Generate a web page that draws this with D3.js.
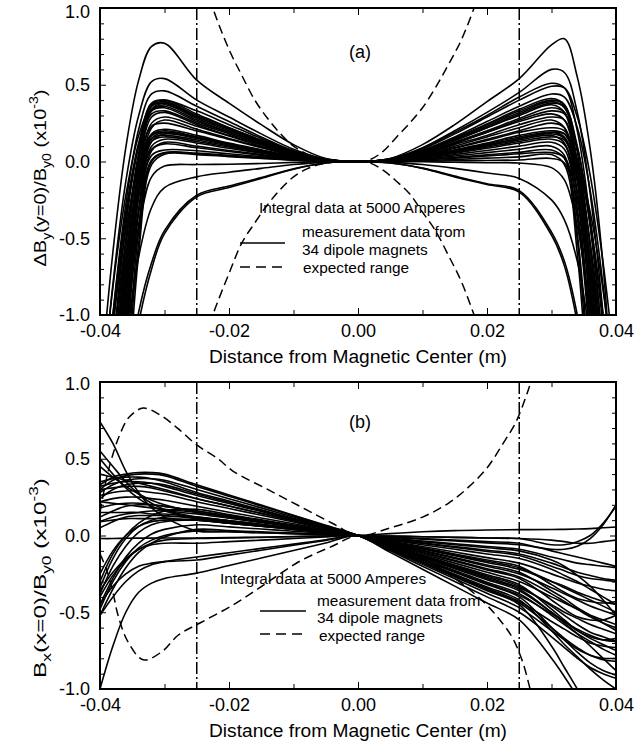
<!DOCTYPE html>
<html><head><meta charset="utf-8">
<script src="https://cdn.jsdelivr.net/npm/d3@7"></script>
<style>
body{margin:0;background:#fff}
text{font-family:"Liberation Sans",Arial,sans-serif;fill:#000}
</style>
</head><body>
<svg id="chart" width="636" height="745"></svg>
<script>
// ---------- DATA ----------
const xSamples = [-0.04,-0.038,-0.036,-0.034,-0.032,-0.03,-0.025,-0.02,-0.015,-0.01,-0.005,0,0.005,0.01,0.015,0.02,0.025,0.03,0.032,0.034,0.036,0.038,0.04];

// panel (a): ΔBy(y=0)/By0 for 34 magnets, values at xSamples
const curvesA = [
[-1.48,-0.59,0.09,0.53,0.75,0.77,0.53,0.38,0.24,0.11,0.02,0,0.02,0.11,0.24,0.39,0.54,0.76,0.80,0.55,0.08,-0.68,-1.9],
[-1.68,-0.80,-0.13,0.30,0.52,0.54,0.40,0.29,0.18,0.08,0.016,0,0.018,0.09,0.20,0.32,0.45,0.60,0.58,0.32,-0.21,-1.0,-2.05],
[-1.96,-1.0,-0.28,0.21,0.44,0.46,0.36,0.26,0.16,0.07,0.014,0,0.017,0.084,0.19,0.30,0.42,0.51,0.48,0.20,-0.38,-1.24,-2.4],
[-2.3,-1.23,-0.42,0.11,0.38,0.40,0.33,0.24,0.15,0.066,0.013,0,0.016,0.08,0.18,0.29,0.40,0.49,0.48,0.29,-0.09,-0.66,-1.4],
[-2.76,-1.51,-0.56,0.06,0.37,0.40,0.31,0.22,0.14,0.062,0.012,0,0.014,0.072,0.16,0.26,0.36,0.44,0.42,0.22,-0.19,-0.81,-1.64],
[-2.96,-1.64,-0.64,0.02,0.36,0.39,0.30,0.22,0.135,0.06,0.012,0,0.013,0.066,0.15,0.24,0.33,0.40,0.37,0.06,-0.56,-1.51,-2.76],
[-3.34,-1.86,-0.76,-0.03,0.34,0.38,0.29,0.21,0.13,0.058,0.012,0,0.013,0.064,0.144,0.23,0.32,0.39,0.35,-0.02,-0.76,-1.87,-3.35],
[-3.76,-2.12,-0.89,-0.08,0.33,0.37,0.28,0.20,0.126,0.056,0.011,0,0.012,0.062,0.14,0.22,0.31,0.38,0.36,0.10,-0.43,-1.22,-2.28],
[-1.89,-1.0,-0.33,0.12,0.34,0.36,0.27,0.19,0.12,0.054,0.011,0,0.012,0.06,0.135,0.22,0.30,0.37,0.32,-0.12,-1.0,-2.32,-4.1],
[-2.02,-1.08,-0.37,0.10,0.33,0.35,0.26,0.19,0.117,0.052,0.01,0,0.011,0.056,0.126,0.20,0.28,0.35,0.32,-0.01,-0.65,-1.63,-2.9],
[-2.47,-1.36,-0.53,0.03,0.31,0.33,0.25,0.18,0.11,0.05,0.01,0,0.011,0.054,0.12,0.19,0.27,0.33,0.31,0.09,-0.38,-1.08,-2.0],
[-3.1,-1.74,-0.73,-0.06,0.29,0.32,0.24,0.17,0.11,0.048,0.01,0,0.01,0.052,0.117,0.19,0.26,0.31,0.27,-0.12,-0.89,-2.07,-3.64],
[-3.6,-2.05,-0.90,-0.13,0.25,0.29,0.23,0.166,0.10,0.046,0.009,0,0.01,0.048,0.11,0.17,0.24,0.29,0.27,0.0,-0.55,-1.35,-2.43],
[-4.2,-2.45,-1.12,-0.22,0.22,0.27,0.21,0.15,0.095,0.042,0.008,0,0.009,0.044,0.10,0.16,0.22,0.27,0.22,-0.22,-1.12,-2.45,-4.2],
[-2.23,-1.25,-0.51,-0.02,0.23,0.25,0.20,0.144,0.09,0.04,0.008,0,0.008,0.04,0.09,0.144,0.20,0.25,0.22,-0.11,-0.75,-1.71,-2.99],
[-2.71,-1.56,-0.68,-0.11,0.18,0.21,0.17,0.12,0.077,0.034,0.007,0,0.008,0.038,0.086,0.137,0.19,0.22,0.20,0.01,-0.40,-1.0,-1.80],
[-3.15,-1.82,-0.83,-0.17,0.17,0.20,0.16,0.115,0.072,0.032,0.006,0,0.007,0.034,0.077,0.12,0.17,0.20,0.18,-0.06,-0.53,-1.24,-2.19],
[-3.69,-2.15,-1.0,-0.23,0.15,0.19,0.155,0.11,0.07,0.031,0.006,0,0.006,0.032,0.072,0.115,0.16,0.19,0.16,-0.12,-0.69,-1.55,-2.68],
[-4.57,-2.69,-1.27,-0.33,0.13,0.18,0.15,0.108,0.068,0.03,0.006,0,0.006,0.03,0.068,0.108,0.15,0.18,0.15,-0.20,-0.90,-1.96,-3.38],
[-2.48,-1.43,-0.63,-0.12,0.15,0.17,0.14,0.10,0.063,0.028,0.006,0,0.006,0.028,0.063,0.10,0.14,0.17,0.12,-0.33,-1.21,-2.53,-4.3],
[-3.34,-1.95,-0.91,-0.22,0.13,0.16,0.13,0.094,0.058,0.026,0.005,0,0.005,0.026,0.058,0.094,0.13,0.16,0.14,-0.12,-0.64,-1.42,-2.46],
[-4.05,-2.38,-1.15,-0.32,0.10,0.145,0.12,0.086,0.054,0.024,0.005,0,0.005,0.024,0.054,0.086,0.12,0.145,0.11,-0.21,-0.84,-1.78,-3.05],
[-5.07,-3.01,-1.47,-0.45,0.07,0.125,0.10,0.072,0.045,0.02,0.004,0,0.004,0.02,0.045,0.072,0.10,0.125,0.08,-0.31,-1.10,-2.28,-3.83],
[-2.77,-1.63,-0.78,-0.20,0.08,0.115,0.09,0.065,0.04,0.018,0.004,0,0.003,0.016,0.036,0.058,0.08,0.10,0.04,-0.51,-1.62,-3.29,-5.5],
[-3.42,-2.04,-1.0,-0.31,0.04,0.075,0.07,0.05,0.032,0.014,0.003,0,0.002,0.012,0.027,0.043,0.06,0.075,0.02,-0.47,-1.45,-2.92,-4.9],
[-4.18,-2.5,-1.24,-0.41,0.01,0.058,0.055,0.04,0.025,0.011,0.002,0,0.002,0.01,0.022,0.036,0.05,0.058,0.025,-0.26,-0.82,-1.66,-2.78],
[-5.3,-3.18,-1.59,-0.53,0.0,0.055,0.05,0.036,0.022,0.01,0.002,0,0.001,0.006,0.013,0.022,0.03,0.045,-0.02,-0.60,-1.77,-3.52,-5.83],
[-5.83,-3.52,-1.77,-0.60,-0.02,0.048,0.045,0.032,0.02,0.009,0.002,0,0.0,0.002,0.005,0.007,0.01,0.02,-0.01,-0.37,-1.09,-2.16,-3.57],
[-2.6,-1.8,-1.05,-0.45,-0.1,-0.03,-0.02,-0.018,-0.013,-0.006,-0.001,0,0.0,-0.002,-0.005,-0.008,-0.01,-0.04,-0.12,-0.42,-1.0,-1.8,-2.7],
[-2.7,-1.9,-1.2,-0.62,-0.3,-0.17,-0.10,-0.07,-0.045,-0.02,-0.004,0,-0.004,-0.02,-0.045,-0.075,-0.11,-0.25,-0.38,-0.65,-1.15,-1.8,-2.6],
[-3.2,-2.3,-1.6,-1.05,-0.7,-0.47,-0.23,-0.17,-0.11,-0.05,-0.01,0,-0.01,-0.045,-0.10,-0.15,-0.20,-0.48,-0.68,-1.05,-1.6,-2.3,-3.2],
[-3.1,-2.2,-1.5,-0.98,-0.66,-0.45,-0.22,-0.16,-0.105,-0.048,-0.01,0,-0.01,-0.043,-0.095,-0.145,-0.19,-0.46,-0.65,-1.0,-1.55,-2.2,-3.1],
[-1.61,-0.82,-0.22,0.17,0.36,0.38,0.29,0.21,0.13,0.058,0.012,0,0.014,0.068,0.153,0.245,0.34,0.41,0.37,-0.05,-0.89,-2.15,-3.84],
[-1.9,-1.07,-0.45,-0.03,0.17,0.19,0.16,0.115,0.072,0.032,0.006,0,0.006,0.032,0.072,0.108,0.15,0.19,0.18,0.01,-0.33,-0.84,-1.53]
];

// panel (b): Bx(x=0)/By0 for 34 magnets, values at xSamples
const curvesB = [
[0.33,0.38,0.40,0.41,0.41,0.40,0.33,0.264,0.198,0.132,0.066,0,-0.094,-0.188,-0.282,-0.376,-0.47,-0.62,-0.68,-0.74,-0.78,-0.81,-0.82],
[0.30,0.36,0.39,0.40,0.40,0.39,0.32,0.256,0.192,0.128,0.064,0,-0.086,-0.172,-0.258,-0.344,-0.43,-0.56,-0.61,-0.66,-0.70,-0.72,-0.73],
[0.35,0.37,0.38,0.38,0.37,0.35,0.28,0.224,0.168,0.112,0.056,0,-0.068,-0.136,-0.204,-0.272,-0.34,-0.45,-0.50,-0.54,-0.58,-0.61,-0.64],
[0.28,0.33,0.36,0.37,0.37,0.36,0.30,0.24,0.18,0.12,0.06,0,-0.08,-0.16,-0.24,-0.32,-0.40,-0.60,-0.68,-0.76,-0.83,-0.88,-0.91],
[0.32,0.34,0.35,0.35,0.34,0.32,0.26,0.208,0.156,0.104,0.052,0,-0.06,-0.12,-0.18,-0.24,-0.30,-0.40,-0.44,-0.48,-0.52,-0.55,-0.58],
[0.24,0.30,0.33,0.34,0.34,0.33,0.27,0.216,0.162,0.108,0.054,0,-0.076,-0.152,-0.228,-0.304,-0.38,-0.52,-0.58,-0.64,-0.69,-0.74,-0.78],
[0.74,0.60,0.42,0.28,0.18,0.12,0.03,0.024,0.018,0.012,0.006,0,-0.012,-0.024,-0.036,-0.048,-0.06,-0.09,-0.09,-0.07,-0.02,0.07,0.20],
[0.55,0.45,0.35,0.27,0.21,0.17,0.12,0.096,0.072,0.048,0.024,0,-0.02,-0.04,-0.06,-0.08,-0.10,-0.16,-0.20,-0.26,-0.33,-0.42,-0.52],
[0.50,0.40,0.31,0.24,0.19,0.16,0.11,0.088,0.066,0.044,0.022,0,-0.026,-0.052,-0.078,-0.104,-0.13,-0.20,-0.23,-0.26,-0.28,-0.29,-0.30],
[0.22,0.21,0.20,0.19,0.18,0.17,0.15,0.12,0.09,0.06,0.03,0,-0.03,-0.06,-0.09,-0.12,-0.15,-0.22,-0.26,-0.30,-0.35,-0.40,-0.45],
[0.22,0.24,0.25,0.25,0.24,0.23,0.19,0.152,0.114,0.076,0.038,0,-0.044,-0.088,-0.132,-0.176,-0.22,-0.30,-0.33,-0.37,-0.40,-0.43,-0.45],
[0.09,0.12,0.14,0.15,0.16,0.16,0.14,0.112,0.084,0.056,0.028,0,-0.024,-0.048,-0.072,-0.096,-0.12,-0.18,-0.21,-0.24,-0.26,-0.28,-0.29],
[0.09,0.10,0.11,0.11,0.11,0.11,0.10,0.08,0.06,0.04,0.02,0,-0.018,-0.036,-0.054,-0.072,-0.09,-0.14,-0.16,-0.18,-0.19,-0.20,-0.21],
[-0.02,-0.02,-0.018,-0.017,-0.017,-0.016,-0.016,-0.014,-0.011,-0.007,-0.003,0,0.012,0.024,0.032,0.036,0.038,0.039,0.04,0.042,0.045,0.05,0.055],
[0.15,0.15,0.15,0.15,0.14,0.14,0.12,0.096,0.072,0.048,0.024,0,-0.01,-0.02,-0.03,-0.04,-0.05,-0.10,-0.12,-0.14,-0.16,-0.18,-0.20],
[-0.34,-0.15,-0.02,0.06,0.10,0.12,0.12,0.096,0.072,0.048,0.024,0,-0.04,-0.08,-0.12,-0.16,-0.20,-0.32,-0.37,-0.41,-0.43,-0.44,-0.43],
[-0.38,-0.20,-0.07,0.02,0.07,0.09,0.10,0.08,0.06,0.04,0.02,0,-0.004,-0.008,-0.012,-0.016,-0.02,-0.06,-0.06,-0.04,0.0,0.08,0.19],
[-0.45,-0.28,-0.14,-0.05,0.01,0.04,0.07,0.056,0.042,0.028,0.014,0,-0.004,-0.008,-0.012,-0.016,-0.02,-0.03,-0.04,-0.05,-0.05,-0.04,-0.03],
[-0.52,-0.35,-0.21,-0.11,-0.05,-0.01,0.04,0.032,0.024,0.016,0.008,0,-0.036,-0.072,-0.108,-0.144,-0.18,-0.25,-0.28,-0.31,-0.33,-0.35,-0.36],
[-0.30,-0.12,0.0,0.08,0.13,0.16,0.17,0.136,0.102,0.068,0.034,0,-0.048,-0.096,-0.144,-0.192,-0.24,-0.36,-0.41,-0.47,-0.52,-0.57,-0.62],
[-0.40,-0.26,-0.16,-0.09,-0.05,-0.03,-0.02,-0.016,-0.012,-0.008,-0.004,0,-0.042,-0.084,-0.126,-0.168,-0.21,-0.30,-0.34,-0.38,-0.42,-0.46,-0.50],
[-1.0,-0.72,-0.50,-0.37,-0.31,-0.28,-0.245,-0.196,-0.147,-0.098,-0.049,0,-0.09,-0.18,-0.27,-0.36,-0.45,-0.72,-0.86,-1.0,-1.15,-1.3,-1.45],
[-0.45,-0.33,-0.25,-0.20,-0.18,-0.17,-0.16,-0.128,-0.096,-0.064,-0.032,0,-0.05,-0.10,-0.15,-0.20,-0.25,-0.34,-0.38,-0.42,-0.46,-0.49,-0.52],
[-0.52,-0.40,-0.30,-0.23,-0.19,-0.17,-0.14,-0.112,-0.084,-0.056,-0.028,0,-0.054,-0.108,-0.162,-0.216,-0.27,-0.38,-0.43,-0.48,-0.53,-0.57,-0.60],
[0.40,0.38,0.36,0.34,0.32,0.30,0.24,0.192,0.144,0.096,0.048,0,-0.10,-0.20,-0.30,-0.40,-0.50,-0.66,-0.73,-0.80,-0.86,-0.90,-0.93],
[0.26,0.28,0.29,0.29,0.28,0.27,0.22,0.176,0.132,0.088,0.044,0,-0.056,-0.112,-0.168,-0.224,-0.28,-0.42,-0.48,-0.53,-0.55,-0.55,-0.52],
[0.18,0.20,0.21,0.21,0.20,0.19,0.16,0.128,0.096,0.064,0.032,0,-0.078,-0.156,-0.234,-0.312,-0.39,-0.51,-0.56,-0.61,-0.65,-0.68,-0.69],
[0.05,0.09,0.12,0.13,0.13,0.13,0.11,0.088,0.066,0.044,0.022,0,-0.064,-0.128,-0.192,-0.256,-0.32,-0.48,-0.55,-0.62,-0.66,-0.68,-0.67],
[-0.25,-0.10,0.0,0.06,0.09,0.10,0.10,0.08,0.06,0.04,0.02,0,-0.072,-0.144,-0.216,-0.288,-0.36,-0.50,-0.56,-0.62,-0.67,-0.71,-0.75],
[-0.36,-0.24,-0.15,-0.09,-0.06,-0.05,-0.05,-0.04,-0.03,-0.02,-0.01,0,-0.084,-0.168,-0.252,-0.336,-0.42,-0.62,-0.71,-0.79,-0.87,-0.94,-1.0],
[0.30,0.31,0.32,0.32,0.31,0.29,0.24,0.192,0.144,0.096,0.048,0,-0.088,-0.176,-0.264,-0.352,-0.44,-0.60,-0.67,-0.73,-0.78,-0.80,-0.80],
[0.12,0.16,0.19,0.20,0.20,0.19,0.16,0.128,0.096,0.064,0.032,0,-0.066,-0.132,-0.198,-0.264,-0.33,-0.46,-0.52,-0.58,-0.63,-0.66,-0.69],
[-0.48,-0.30,-0.17,-0.08,-0.03,0.0,0.03,0.024,0.018,0.012,0.006,0,-0.07,-0.14,-0.21,-0.28,-0.35,-0.50,-0.57,-0.64,-0.72,-0.80,-0.88],
[0.45,0.38,0.32,0.27,0.23,0.20,0.15,0.12,0.09,0.06,0.03,0,-0.11,-0.22,-0.33,-0.44,-0.55,-0.80,-0.92,-1.05,-1.2,-1.35,-1.5]
];

// expected range (dashed)
const rangeAX     = [-0.0235,-0.0225,-0.02,-0.018,-0.016,-0.014,-0.012,-0.01,-0.008,-0.006,-0.004,-0.002,0,0.002,0.004,0.006,0.008,0.01,0.012,0.014,0.016,0.018,0.0185];
const rangeAUpper = [1.15,1.0,0.73,0.56,0.40,0.28,0.18,0.10,0.05,0.02,0.005,0.0,0,0.015,0.07,0.16,0.25,0.35,0.48,0.63,0.79,1.0,1.06];
const rangeALower = [-1.15,-1.0,-0.73,-0.53,-0.40,-0.28,-0.18,-0.10,-0.05,-0.02,-0.005,0,0,-0.012,-0.06,-0.13,-0.21,-0.33,-0.45,-0.61,-0.78,-1.0,-1.06];

const rangeBUpperX = [-0.04,-0.0397,-0.039,-0.0382,-0.037,-0.0355,-0.0333,-0.0305,-0.028,-0.025,-0.0217,-0.0194,-0.014,-0.009,-0.004,0,0.005,0.01,0.014,0.017,0.02,0.0225,0.0245,0.026,0.0268,0.0275];
const rangeBUpperY = [0.15,0.22,0.37,0.50,0.65,0.77,0.83,0.78,0.70,0.59,0.50,0.42,0.30,0.19,0.08,0,0.05,0.12,0.21,0.31,0.44,0.60,0.74,0.90,1.0,1.1];
const rangeBLowerX = [-0.04,-0.039,-0.038,-0.0372,-0.0357,-0.0333,-0.0304,-0.0279,-0.0245,-0.0194,-0.0142,-0.009,-0.004,0,0.0044,0.0091,0.0143,0.0194,0.022,0.024,0.0255,0.0265,0.027];
const rangeBLowerY = [-0.12,-0.22,-0.37,-0.52,-0.69,-0.81,-0.757,-0.65,-0.57,-0.453,-0.31,-0.167,-0.07,0,-0.04,-0.127,-0.257,-0.43,-0.55,-0.67,-0.82,-0.97,-1.06];

const markerX = [-0.025, 0.025];
const xTicks = [-0.04,-0.02,0,0.02,0.04];
const xTickLabels = ["-0.04","-0.02","0.00","0.02","0.04"];
const xMinorTicks = [-0.03,-0.01,0.01,0.03];
const yTicks = [-1,-0.5,0,0.5,1];
const yTickLabels = ["-1.0","-0.5","0.0","0.5","1.0"];
const yMinorTicks = [-0.9,-0.8,-0.7,-0.6,-0.4,-0.3,-0.2,-0.1,0.1,0.2,0.3,0.4,0.6,0.7,0.8,0.9];
const xTitle = "Distance from Magnetic Center (m)";
const legendTitle = "Integral data at 5000 Amperes";
const legendSolid = ["measurement data from","34 dipole magnets"];
const legendDashed = "expected range";

// ---------- DRAW ----------
const svg = d3.select("#chart");
const L = 100, R = 616;
const x = d3.scaleLinear().domain([-0.04,0.04]).range([L,R]);

const panels = [
  {id:"a", top:8, bottom:315, curves:curvesA,
   ranges:[[rangeAX,rangeAUpper],[rangeAX,rangeALower]],
   tag:"(a)", tagY:58, topLabelShift:4,
   yTitle:[["ΔB",0],["y",1],["(y=0)/B",0],["y0",1],[" (x10",0],["-3",2],[")",0]], yTitleC:178, yTitleLen:177,
   leg:{tx:259, ty:213, lx1:240, lx2:285, ly1:243, ly2:267, sx:302, sy:[237,255], dx:303, dy:273}},
  {id:"b", top:382, bottom:689, curves:curvesB,
   ranges:[[rangeBUpperX,rangeBUpperY],[rangeBLowerX,rangeBLowerY]],
   tag:"(b)", tagY:428, topLabelShift:2,
   yTitle:[["B",0],["x",1],["(x=0)/B",0],["y0",1],[" (x10",0],["-3",2],[")",0]], yTitleC:578, yTitleLen:200,
   leg:{tx:220, ty:584, lx1:260, lx2:306, ly1:611, ly2:634, sx:317, sy:[606,623], dx:319, dy:641}}
];

panels.forEach(p => {
  const y = d3.scaleLinear().domain([-1,1]).range([p.bottom,p.top]);
  const g = svg.append("g");
  const clipId = "clip-" + p.id;
  svg.append("clipPath").attr("id",clipId).append("rect")
    .attr("x",L).attr("y",p.top).attr("width",R-L).attr("height",p.bottom-p.top);

  const plot = g.append("g").attr("clip-path",`url(#${clipId})`);
  const line = d3.line().x(d=>x(d[0])).y(d=>y(d[1])).curve(d3.curveCatmullRom.alpha(0.5));

  // measurement curves
  plot.selectAll("path.m").data(p.curves).join("path").attr("class","m")
    .attr("d", c => line(c.map((v,i)=>[xSamples[i],v])))
    .attr("fill","none").attr("stroke","#000").attr("stroke-width",1.6);

  // expected range
  p.ranges.forEach(([xs,ys]) => {
    plot.append("path").attr("d", line(xs.map((v,i)=>[v,ys[i]])))
      .attr("fill","none").attr("stroke","#000").attr("stroke-width",1.5)
      .attr("stroke-dasharray","9,5");
  });

  // dash-dot markers
  plot.selectAll("line.mk").data(markerX).join("line").attr("class","mk")
    .attr("x1",d=>x(d)).attr("x2",d=>x(d)).attr("y1",p.top).attr("y2",p.bottom)
    .attr("stroke","#000").attr("stroke-width",1.5).attr("stroke-dasharray","12,3,2,3");

  // axes
  const axes = g.append("g");
  const fmtX = d => xTickLabels[xTicks.indexOf(d)];
  const fmtY = d => yTickLabels[yTicks.indexOf(d)];
  axes.append("g").attr("transform",`translate(0,${p.bottom})`)
    .call(d3.axisBottom(x).tickValues(xTicks).tickSize(-7).tickPadding(9).tickFormat(fmtX));
  axes.append("g").attr("transform",`translate(0,${p.bottom})`)
    .call(d3.axisBottom(x).tickValues(xMinorTicks).tickSize(-5).tickFormat(""));
  axes.append("g").attr("transform",`translate(0,${p.top})`)
    .call(d3.axisTop(x).tickValues(xTicks).tickSize(-7).tickFormat(""));
  axes.append("g").attr("transform",`translate(0,${p.top})`)
    .call(d3.axisTop(x).tickValues(xMinorTicks).tickSize(-5).tickFormat(""));
  const yAx = axes.append("g").attr("transform",`translate(${L},0)`)
    .call(d3.axisLeft(y).tickValues(yTicks).tickSize(-6).tickPadding(10).tickFormat(fmtY));
  yAx.selectAll(".tick text").filter(d => d === 1).attr("y", p.topLabelShift);
  axes.append("g").attr("transform",`translate(${L},0)`)
    .call(d3.axisLeft(y).tickValues(yMinorTicks).tickSize(-4).tickFormat(""));
  axes.append("g").attr("transform",`translate(${R},0)`)
    .call(d3.axisRight(y).tickValues(yTicks).tickSize(-6).tickFormat(""));
  axes.append("g").attr("transform",`translate(${R},0)`)
    .call(d3.axisRight(y).tickValues(yMinorTicks).tickSize(-4).tickFormat(""));
  axes.selectAll(".domain").remove();
  axes.selectAll(".tick line").attr("stroke","#000").attr("stroke-width",1);
  axes.selectAll(".tick text").attr("font-size",18).attr("font-family","Liberation Sans, Arial, sans-serif").attr("fill","#000");

  // frame
  g.append("rect").attr("x",L).attr("y",p.top).attr("width",R-L).attr("height",p.bottom-p.top)
    .attr("fill","none").attr("stroke","#000").attr("stroke-width",2);

  // x title
  g.append("text").attr("x",(L+R)/2).attr("y",p.bottom+48).attr("text-anchor","middle")
    .attr("font-size",17.5).attr("textLength",298).attr("lengthAdjust","spacingAndGlyphs").text(xTitle);

  // y title
  const yt = g.append("text").attr("transform",`translate(46,${p.yTitleC}) rotate(-90)`)
    .attr("text-anchor","middle").attr("font-size",17)
    .attr("textLength",p.yTitleLen).attr("lengthAdjust","spacingAndGlyphs");
  let shift = 0;
  p.yTitle.forEach(([t,k]) => {
    const target = k===1 ? 5 : (k===2 ? -8 : 0);
    yt.append("tspan").attr("dy", target - shift).attr("font-size", k ? 12 : 17).text(t);
    shift = target;
  });

  // panel tag
  g.append("text").attr("x",x(0)+2).attr("y",p.tagY).attr("text-anchor","middle").attr("font-size",18).text(p.tag);

  // legend
  const lg = p.leg;
  g.append("text").attr("x",lg.tx).attr("y",lg.ty).attr("font-size",15.4).text(legendTitle);
  g.append("line").attr("x1",lg.lx1).attr("x2",lg.lx2).attr("y1",lg.ly1).attr("y2",lg.ly1)
    .attr("stroke","#000").attr("stroke-width",1.6);
  g.append("line").attr("x1",lg.lx1).attr("x2",lg.lx2).attr("y1",lg.ly2).attr("y2",lg.ly2)
    .attr("stroke","#000").attr("stroke-width",1.6).attr("stroke-dasharray","10,6");
  legendSolid.forEach((t,i) => g.append("text").attr("x",lg.sx).attr("y",lg.sy[i]).attr("font-size",15.4).text(t));
  g.append("text").attr("x",lg.dx).attr("y",lg.dy).attr("font-size",15.4).text(legendDashed);
});
</script>
</body></html>
